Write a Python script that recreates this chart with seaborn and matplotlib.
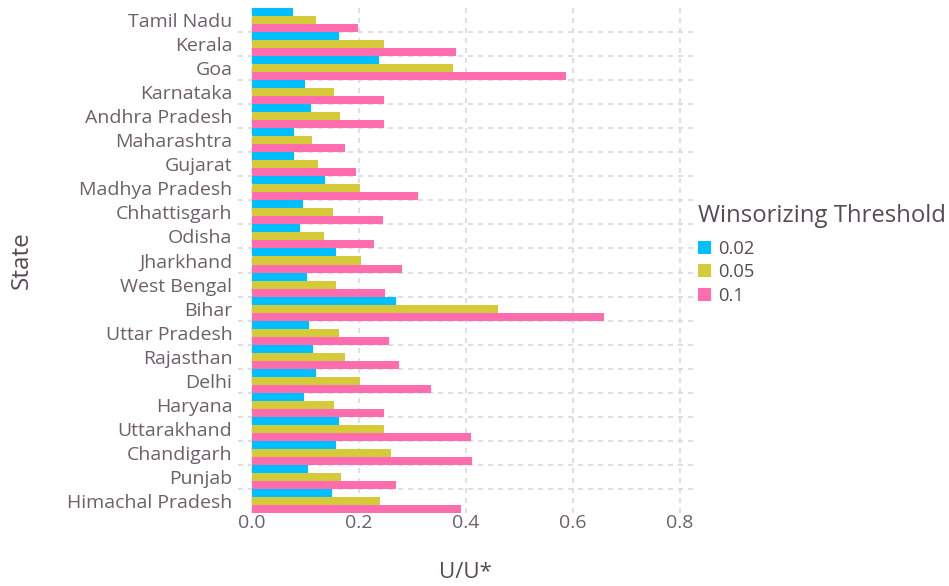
import pandas as pd
import matplotlib
matplotlib.use('Agg')
import matplotlib.pyplot as plt
import seaborn as sns

# Dados
states = ['Tamil Nadu', 'Kerala', 'Goa', 'Karnataka', 'Andhra Pradesh', 'Maharashtra',
          'Gujarat', 'Madhya Pradesh', 'Chhattisgarh', 'Odisha', 'Jharkhand', 'West Bengal',
          'Bihar', 'Uttar Pradesh', 'Rajasthan', 'Delhi', 'Haryana', 'Uttarakhand',
          'Chandigarh', 'Punjab', 'Himachal Pradesh']
thresholds = ['0.02', '0.05', '0.1']
vals_002 = [0.077, 0.163, 0.237, 0.099, 0.110, 0.079, 0.079, 0.136, 0.095, 0.090, 0.157,
            0.103, 0.269, 0.107, 0.114, 0.120, 0.097, 0.163, 0.157, 0.105, 0.150]
vals_005 = [0.120, 0.247, 0.376, 0.153, 0.164, 0.112, 0.123, 0.202, 0.151, 0.135, 0.204,
            0.157, 0.460, 0.163, 0.174, 0.202, 0.153, 0.247, 0.260, 0.166, 0.239]
vals_01 = [0.198, 0.381, 0.587, 0.247, 0.247, 0.174, 0.194, 0.310, 0.245, 0.228, 0.280,
           0.249, 0.658, 0.256, 0.275, 0.335, 0.247, 0.409, 0.411, 0.269, 0.391]
colors = ['#00BFFF', '#D4CA3A', '#FF6DAE']

df = pd.DataFrame({
    'State': states * 3,
    'Threshold': [thresholds[0]] * 21 + [thresholds[1]] * 21 + [thresholds[2]] * 21,
    'U/U*': vals_002 + vals_005 + vals_01,
})

sns.set_style('white')
plt.rcParams['font.family'] = ['Open Sans', 'DejaVu Sans']

tick_color = '#6c606b'
label_color = '#564a55'
grid_color = '#D8D8E8'

fig = plt.figure(figsize=(9.49, 5.86), dpi=100)
ax = fig.add_axes([238 / 949, 1 - 513 / 586, (693 - 238) / 949, 505 / 586])

sns.barplot(data=df, x='U/U*', y='State', hue='Threshold', hue_order=thresholds,
            order=states, palette=colors, orient='h', width=1.0, dodge=True,
            saturation=1, linewidth=0, ax=ax, zorder=2)

ax.set_xlim(-0.026, 0.824)
ax.set_ylim(20.5, -0.5)
ax.set_xticks([0, 0.2, 0.4, 0.6, 0.8])
ax.set_xticklabels(['0.0', '0.2', '0.4', '0.6', '0.8'])
ax.set_yticks(range(len(states)))
ax.set_yticklabels(states)
ax.set_yticks([i + 0.5 for i in range(len(states) - 1)], minor=True)

for s in ax.spines.values():
    s.set_visible(False)
ax.tick_params(axis='both', which='both', length=0, labelsize=14, colors=tick_color)
ax.tick_params(axis='y', pad=4)
ax.tick_params(axis='x', pad=1)

ax.grid(False)
ax.grid(True, axis='x', which='major', color=grid_color, linestyle=(0, (3, 3)), linewidth=1.2, zorder=0)
ax.grid(True, axis='y', which='minor', color=grid_color, linestyle=(0, (3, 3)), linewidth=1.2, zorder=0)
ax.set_axisbelow(True)

ax.set_xlabel('U/U*', fontsize=16, color=label_color, labelpad=21)
ax.set_ylabel('State', fontsize=17.5, color=label_color, labelpad=24)

handles, labels = ax.get_legend_handles_labels()
ax.legend_.remove()
leg = fig.legend(handles, labels, title='Winsorizing Threshold', loc='upper left',
                 bbox_to_anchor=(681 / 949, 1 - 188 / 586), frameon=False,
                 fontsize=13.2, title_fontsize=17.2, handlelength=0.75, handleheight=0.75,
                 handletextpad=0.4, labelspacing=0.3, alignment='left')
leg._legend_box.sep = 8
plt.setp(leg.get_title(), color=label_color)
for t in leg.get_texts():
    t.set_color(label_color)

fig.savefig('out.png', dpi=100)
